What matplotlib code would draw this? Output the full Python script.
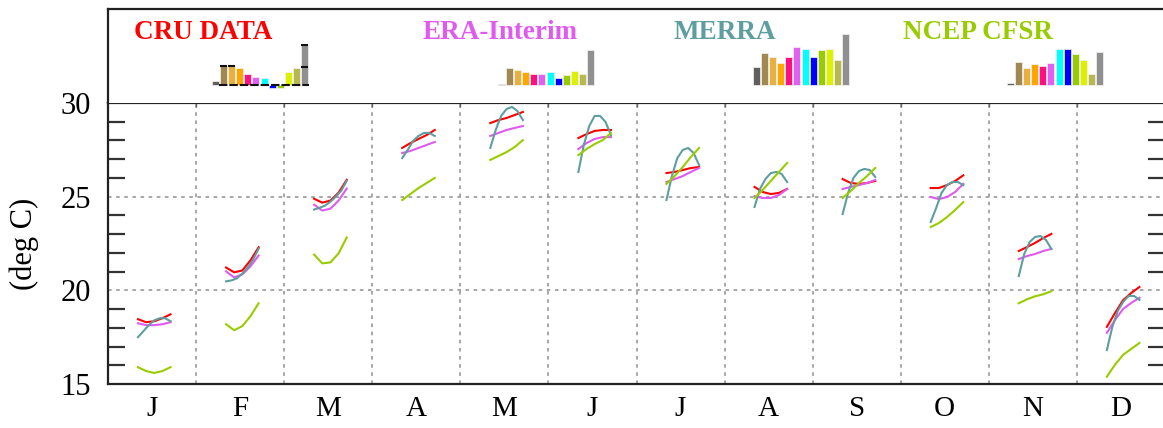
import numpy as np
import matplotlib.pyplot as plt
from matplotlib.ticker import MultipleLocator

plt.rcParams['font.family'] = ['Liberation Serif', 'DejaVu Serif']

months = ['J', 'F', 'M', 'A', 'M', 'J', 'J', 'A', 'S', 'O', 'N', 'D']

# monthly curves (deg C), one short curve per month and dataset
cru = [[18.46, 18.30, 18.35, 18.51, 18.72],
       [21.22, 20.96, 21.06, 21.60, 22.30],
       [24.89, 24.68, 24.79, 25.21, 25.90],
       [27.60, 27.86, 28.08, 28.29, 28.56],
       [28.93, 29.09, 29.20, 29.36, 29.52],
       [28.13, 28.34, 28.51, 28.56, 28.56],
       [26.26, 26.32, 26.42, 26.53, 26.58],
       [25.52, 25.25, 25.14, 25.20, 25.41],
       [25.94, 25.73, 25.68, 25.73, 25.84],
       [25.46, 25.46, 25.62, 25.84, 26.14],
       [22.10, 22.31, 22.53, 22.79, 23.01],
       [18.05, 18.79, 19.48, 19.86, 20.18]]

era = [[18.24, 18.14, 18.14, 18.19, 18.30],
       [21.01, 20.69, 20.85, 21.28, 21.86],
       [24.57, 24.26, 24.36, 24.79, 25.43],
       [27.33, 27.44, 27.60, 27.76, 27.92],
       [28.24, 28.40, 28.56, 28.67, 28.77],
       [27.54, 27.86, 28.08, 28.18, 28.18],
       [25.78, 25.94, 26.10, 26.32, 26.53],
       [25.03, 24.93, 24.93, 25.09, 25.41],
       [25.41, 25.52, 25.62, 25.73, 25.89],
       [24.98, 24.87, 24.98, 25.25, 25.68],
       [21.67, 21.83, 21.94, 22.10, 22.21],
       [17.73, 18.42, 19.01, 19.33, 19.60]]

merra = [[17.50, 17.82, 18.14, 18.40, 18.51, 18.51, 18.35],
         [20.48, 20.53, 20.64, 20.90, 21.22, 21.65, 22.23],
         [24.31, 24.41, 24.52, 24.73, 25.00, 25.32, 25.85],
         [27.06, 27.49, 27.97, 28.24, 28.40, 28.40, 28.24],
         [27.60, 28.56, 29.31, 29.68, 29.79, 29.57, 29.09],
         [26.32, 27.76, 28.77, 29.31, 29.31, 28.99, 28.29],
         [24.82, 26.10, 27.06, 27.49, 27.60, 27.33, 26.69],
         [24.45, 25.41, 25.94, 26.26, 26.32, 26.21, 25.78],
         [24.07, 25.20, 26.00, 26.37, 26.48, 26.42, 26.05],
         [23.65, 24.39, 25.20, 25.62, 25.78, 25.78, 25.62],
         [20.76, 21.94, 22.58, 22.85, 22.90, 22.69, 22.21],
         [16.81, 18.04, 18.90, 19.38, 19.70, 19.70, 19.49]]

ncep = [[15.90, 15.69, 15.59, 15.69, 15.90],
        [18.19, 17.87, 18.09, 18.62, 19.31],
        [21.91, 21.44, 21.49, 21.97, 22.82],
        [24.82, 25.14, 25.46, 25.73, 26.00],
        [26.96, 27.17, 27.38, 27.65, 28.02],
        [27.22, 27.54, 27.81, 28.02, 28.40],
        [25.68, 26.10, 26.58, 27.12, 27.60],
        [24.93, 25.36, 25.84, 26.32, 26.80],
        [24.93, 25.30, 25.73, 26.10, 26.53],
        [23.38, 23.59, 23.91, 24.29, 24.71],
        [19.31, 19.52, 19.68, 19.79, 19.95],
        [15.39, 16.03, 16.56, 16.88, 17.19]]

# small bar summaries in the header (one bar per month)
cru_bars = [4, 19, 19, 17, 11, 8, 7, -3, -3, 13, 17, 40]
era_bars = [1, 17, 15, 13, 11, 11, 13, 7, 10, 14, 11, 35]
merra_bars = [18, 32, 28, 22, 28, 38, 36, 28, 35, 36, 25, 51]
ncep_bars = [2, 23, 17, 21, 19, 22, 36, 36, 31, 25, 11, 33]
cru_marks = [(1, 19), (2, 19), (11, 40), (11, 18)]

names = ['CRU DATA', 'ERA-Interim', 'MERRA', 'NCEP CFSR']
colors = ['#ff0000', '#e05af0', '#5f9ea0', '#99cc00']
bar_colors = ['#606060', '#a08850', '#e8b040', '#ffa500', '#ff1080', '#e060f0',
              '#00ffff', '#0000ff', '#99cc00', '#ddf000', '#b8b850', '#909090']

W, H = 1163, 428
fig = plt.figure(figsize=(W / 100, H / 100), dpi=100)

def px_axes(x0, y0, x1, y1):
    # rectangle given in pixels from the top-left corner
    return fig.add_axes([x0 / W, 1 - y1 / H, (x1 - x0) / W, (y1 - y0) / H])

ax = px_axes(108, 103, 1165, 384)

for s, data in enumerate([cru, era, merra, ncep]):
    for i, vals in enumerate(data):
        xs = np.linspace(i + 0.34, i + 0.71, len(vals))
        ax.plot(xs, vals, color=colors[s], lw=1.5, zorder=3)

ax.set_xlim(0, 12)
ax.set_ylim(15, 30)
ax.set_xticks(np.arange(0.5, 12, 1))
ax.set_xticklabels(months, fontsize=21)
ax.set_xticks(np.arange(1, 12), minor=True)
ax.tick_params(axis='x', which='major', length=0, pad=9)
ax.tick_params(axis='x', which='minor', direction='in', length=3, width=1,
               color='#666666', top=True, bottom=False)
ax.set_yticks([15, 20, 25, 30])
ax.yaxis.set_minor_locator(MultipleLocator(1))
ax.tick_params(axis='y', which='major', length=0, pad=12, labelsize=22)
ax.tick_params(axis='y', which='minor', direction='in', length=12, width=1.6,
               color='#333333', left=True, right=True)
ax.set_ylabel('(deg C)', fontsize=22, labelpad=16)

for v in range(1, 12):
    ax.axvline(v, color='#a0a0a0', lw=1.3, ls=(0, (2, 2.5)), zorder=1)
for v in [20, 25]:
    ax.axhline(v, color='#a0a0a0', lw=1.3, ls=(0, (2, 2.5)), zorder=1)
for sp in ax.spines.values():
    sp.set_linewidth(1.6)
    sp.set_color('#222222')

# header panel
top = px_axes(108, 9, 1165, 103)
top.set_xticks([])
top.set_yticks([])
top.spines['bottom'].set_visible(False)
for sp in ['top', 'left', 'right']:
    top.spines[sp].set_linewidth(1.6)
    top.spines[sp].set_color('#222222')

text_x = [134, 422, 673, 903]
for name, c, tx in zip(names, colors, text_x):
    fig.text(tx / W, 1 - 39 / H, name, color=c, fontsize=19.5,
             fontweight='bold', va='baseline', ha='left')

bar_left = [211, 497, 752, 1006]
for k, vals in enumerate([cru_bars, era_bars, merra_bars, ncep_bars]):
    bx = px_axes(bar_left[k], 25, bar_left[k] + 98, 95)
    bx.bar(np.arange(12), vals, width=0.85, color=bar_colors,
           edgecolor='#f4f4f4', linewidth=0.5)
    bx.set_xlim(-0.5, 11.5)
    bx.set_ylim(-10, 60)
    bx.axis('off')
    if k == 0:
        bx.hlines(0, 0.5, 11.5, color='#111111', lw=1.5, linestyles=(0, (4, 1)))
        for mi, mv in cru_marks:
            bx.hlines(mv, mi - 0.42, mi + 0.42, color='#111111', lw=1.5)

fig.savefig('out.png', dpi=100)
